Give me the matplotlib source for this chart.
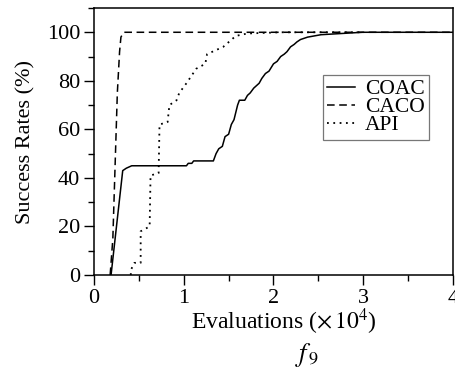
import matplotlib
matplotlib.use("Agg")
import matplotlib.pyplot as plt
from matplotlib.ticker import MultipleLocator

plt.rcParams["font.family"] = ["Liberation Serif", "DejaVu Serif"]
plt.rcParams["mathtext.fontset"] = "stix"

# Success rate curves (evaluations in units of 1e4, success rate in %)
coac_x = [0.19, 0.32, 0.36, 0.42, 1.03, 1.05, 1.09, 1.11, 1.33, 1.36, 1.39, 1.43,
          1.46, 1.50, 1.53, 1.56, 1.60, 1.62, 1.68, 1.71, 1.74, 1.78, 1.84, 1.87,
          1.91, 1.95, 2.00, 2.04, 2.08, 2.12, 2.15, 2.19, 2.23, 2.26, 2.30, 2.38,
          2.53, 2.99, 4.0]
coac_y = [0, 43, 44, 45, 45, 46, 46, 47, 47, 50, 52, 53, 57, 58, 62, 64, 70, 72,
          72, 74, 75, 77, 79, 81, 83, 84, 87, 88, 90, 91, 92, 94, 95, 96, 97, 98,
          99, 100, 100]

caco_x = [0.18, 0.21, 0.235, 0.26, 0.285, 0.30, 0.33, 4.0]
caco_y = [0, 15, 45, 75, 92, 98, 100, 100]

api_x = [0.41, 0.41, 0.45, 0.52, 0.52, 0.62, 0.63, 0.72, 0.73, 0.82, 0.84, 0.92,
         0.95, 1.03, 1.14, 1.24, 1.26, 1.44, 1.58, 1.71, 2.08, 3.0]
api_y = [0, 2, 5, 5, 18, 20, 41, 42, 62, 63, 70, 72, 75, 79, 85, 87, 91, 94,
         98.5, 99.5, 100, 100]

x_ticks = [0, 1, 2, 3, 4]
y_ticks = [0, 20, 40, 60, 80, 100]

W, H = 456, 376
fig = plt.figure(figsize=(W / 100, H / 100), dpi=100)
ax = fig.add_axes([94 / W, 1 - 275 / H, 359 / W, 267 / H])

ax.plot(coac_x, coac_y, color="black", lw=1.1, ls="-", label="COAC")
ax.plot(caco_x, caco_y, color="black", lw=1.1, ls=(0, (5, 3)), label="CACO")
ax.plot(api_x, api_y, color="black", lw=1.3, ls=(0, (1, 2.5)), label="API")

ax.set_xlim(0, 4)
ax.set_ylim(0, 110)
ax.set_xticks(x_ticks)
ax.set_yticks(y_ticks)
ax.xaxis.set_minor_locator(MultipleLocator(0.5))
ax.yaxis.set_minor_locator(MultipleLocator(10))
ax.tick_params(which="major", direction="out", length=7, width=1,
               labelsize=16, top=False, right=False, pad=3)
ax.tick_params(which="minor", direction="out", length=4, width=1,
               top=False, right=False)
for sp in ax.spines.values():
    sp.set_linewidth(1.1)

ax.set_ylabel("Success Rates (%)", fontsize=16, labelpad=8)
fig.text(284 / W, 1 - 322 / H, r"Evaluations ($\times\,10^4$)",
         fontsize=17, ha="center", va="center")
fig.text(307 / W, 1 - 355 / H, r"$f_{\,9}$", fontsize=19,
         ha="center", va="center")

leg = ax.legend(loc="upper left",
                bbox_to_anchor=((323 - 94) / 359, 1 - (75 - 8) / 267),
                bbox_transform=ax.transAxes,
                fontsize=15.5, frameon=True, fancybox=False, edgecolor="#555555",
                handlelength=1.3, handletextpad=0.45, borderpad=0.2,
                labelspacing=-0.1, borderaxespad=0)
leg.get_frame().set_linewidth(0.9)

fig.savefig("out.png", dpi=100)
